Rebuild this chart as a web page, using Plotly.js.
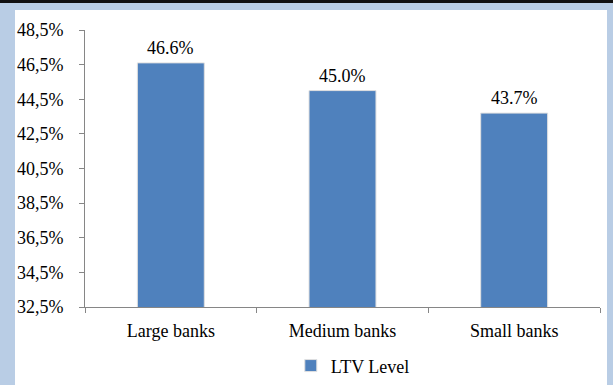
<!DOCTYPE html>
<html>
<head>
<meta charset="utf-8">
<script src="https://cdn.plot.ly/plotly-3.0.1.min.js"></script>
<style>
html,body{margin:0;padding:0;}
#frame{position:relative;width:613px;height:385px;background:#b9cde5;overflow:hidden;}
#topline{position:absolute;left:0;top:0;width:613px;height:3px;background:#111;}
#chart{position:absolute;left:15px;top:10px;width:592px;height:375px;}
</style>
</head>
<body>
<div id="frame"><div id="topline"></div><div id="chart"></div></div>
<script>
const categories = ["Large banks", "Medium banks", "Small banks"];
const ltvValues = [46.6, 45.0, 43.7];
const labelTexts = ["46.6%", "45.0%", "43.7%"];
const tickValues = [32.5, 34.5, 36.5, 38.5, 40.5, 42.5, 44.5, 46.5, 48.5];
const tickLabels = ["32,5%", "34,5%", "36,5%", "38,5%", "40,5%", "42,5%", "44,5%", "46,5%", "48,5%"];
const seriesName = "LTV Level";

function serif(size) {
  return {family: "Liberation Serif, serif", size: size, color: "#000000"};
}

const trace = {
  type: "bar",
  x: categories,
  y: ltvValues,
  name: seriesName,
  marker: {color: "#4f81bd", line: {color: "#e0e0e0", width: 1}},
  showlegend: true,
  hoverinfo: "none"
};

const annotations = categories.map((c, i) => ({
  x: c, y: ltvValues[i], xref: "x", yref: "y",
  text: labelTexts[i], showarrow: false,
  yanchor: "bottom", yshift: 3, font: serif(18)
}));

const layout = {
  width: 592, height: 375,
  margin: {l: 70, r: 7, t: 20, b: 78, autoexpand: false},
  paper_bgcolor: "#ffffff",
  plot_bgcolor: "#ffffff",
  font: serif(18),
  bargap: 0.61,
  showlegend: true,
  legend: {orientation: "h", x: 0.52, xanchor: "center", yref: "container", y: 0.051, yanchor: "middle", font: serif(18)},
  xaxis: {
    type: "category",
    showline: true, linecolor: "#868686", linewidth: 1,
    ticks: "outside", tickson: "boundaries", ticklen: 5, tickcolor: "#868686",
    showgrid: false, zeroline: false,
    ticklabelstandoff: 7,
    automargin: false,
    tickfont: serif(18)
  },
  yaxis: {
    range: [32.5, 48.5],
    tickvals: tickValues, ticktext: tickLabels,
    showline: true, linecolor: "#868686", linewidth: 1,
    ticks: "outside", ticklen: 5, tickcolor: "#868686",
    showgrid: false, zeroline: false,
    ticklabelstandoff: 12,
    automargin: false,
    tickfont: serif(18)
  },
  annotations: annotations
};

Plotly.newPlot("chart", [trace], layout, {displayModeBar: false, staticPlot: true});
</script>
</body>
</html>
